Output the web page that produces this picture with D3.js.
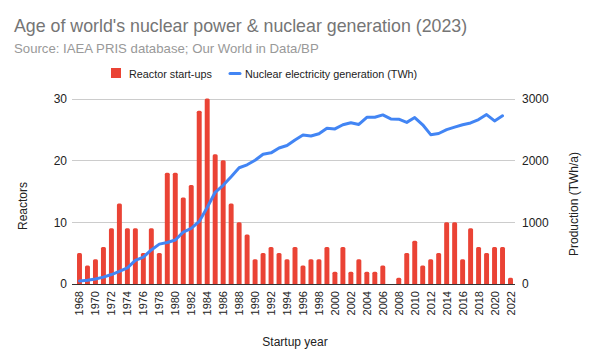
<!DOCTYPE html>
<html><head><meta charset="utf-8">
<script src="https://cdn.jsdelivr.net/npm/d3@7"></script>
<style>
body{margin:0;background:#fff;}
text{font-family:"Liberation Sans",Arial,sans-serif;}
</style></head>
<body>
<svg id="c" width="592" height="364"></svg>
<script>
const years = d3.range(1968, 2023);
const reactors = [5,3,4,6,9,13,9,9,5,9,5,18,18,14,16,28,30,21,20,13,10,8,4,5,6,5,4,6,3,4,4,6,2,6,2,4,2,2,3,0,1,5,7,3,4,5,10,10,4,9,6,5,6,6,1];
const genYears = d3.range(1968, 2022);
const generation = [50,60,80,111,153,203,260,381,436,551,645,672,712,838,898,1012,1238,1483,1597,1735,1880,1928,2001,2099,2121,2200,2240,2330,2410,2393,2430,2520,2508,2575,2609,2580,2695,2697,2735,2670,2665,2614,2692,2575,2415,2434,2496,2537,2576,2605,2660,2740,2637,2720];
const leftTicks = [0,10,20,30];
const rightTicks = [0,1000,2000,3000];
const tickYears = years.filter(y => (y - 1968) % 2 === 0);

const svg = d3.select("#c");
const L = 75.5, R = 514.5, T = 98.5, B = 284;
const x = d3.scaleBand().domain(years).range([L, R]).paddingInner(0.38).paddingOuter(0.19);
const yL = d3.scaleLinear().domain([0, 30]).range([B, T]);
const yR = d3.scaleLinear().domain([0, 3000]).range([B, T]);

// title
svg.append("text").attr("x", 14).attr("y", 32).attr("fill", "#757575").attr("font-size", 17.8).text("Age of world's nuclear power & nuclear generation (2023)");
svg.append("text").attr("x", 14).attr("y", 53).attr("fill", "#999").attr("font-size", 13.2).text("Source: IAEA PRIS database; Our World in Data/BP");

// legend
svg.append("rect").attr("x", 111).attr("y", 68).attr("width", 10).attr("height", 10).attr("fill", "#EA4335");
svg.append("text").attr("x", 129).attr("y", 78).attr("font-size", 10.8).attr("fill", "#222").text("Reactor start-ups");
svg.append("line").attr("x1", 230).attr("x2", 240).attr("y1", 73.5).attr("y2", 73.5).attr("stroke", "#4285F4").attr("stroke-width", 3).attr("stroke-linecap", "round");
svg.append("text").attr("x", 245).attr("y", 78).attr("font-size", 10.8).attr("fill", "#222").text("Nuclear electricity generation (TWh)");

// gridlines
svg.append("g").selectAll("line").data(leftTicks.slice(1)).join("line")
  .attr("x1", 72).attr("x2", 515).attr("y1", d => Math.round(yL(d)) + 0.5).attr("y2", d => Math.round(yL(d)) + 0.5)
  .attr("stroke", "#ccc").attr("stroke-width", 1);

// left axis labels
const axL = d3.axisLeft(yL).tickValues(leftTicks).tickSize(0).tickPadding(0).tickFormat(d3.format("d"));
const gL = svg.append("g").attr("transform", "translate(67,0)").call(axL);
gL.select(".domain").remove();
gL.selectAll("text").attr("font-size", 12).attr("fill", "#222").attr("font-family", "Liberation Sans, Arial, sans-serif");

const axR = d3.axisRight(yR).tickValues(rightTicks).tickSize(0).tickPadding(0).tickFormat(d3.format("d"));
const gR = svg.append("g").attr("transform", "translate(522,0)").call(axR);
gR.select(".domain").remove();
gR.selectAll("text").attr("font-size", 12).attr("fill", "#222").attr("font-family", "Liberation Sans, Arial, sans-serif");

// bars
svg.append("g").selectAll("path").data(years.map((y, i) => ({y, v: reactors[i]})).filter(d => d.v > 0)).join("path")
  .attr("fill", "#EA4335")
  .attr("d", d => {
    const x0 = x(d.y), w = x.bandwidth(), y0 = yL(d.v), h = B - y0, r = Math.min(1.5, h);
    return `M${x0},${B}V${y0 + r}Q${x0},${y0} ${x0 + r},${y0}H${x0 + w - r}Q${x0 + w},${y0} ${x0 + w},${y0 + r}V${B}Z`;
  });

// baseline
svg.append("line").attr("x1", 72).attr("x2", 515).attr("y1", B + 0.5).attr("y2", B + 0.5).attr("stroke", "#333").attr("stroke-width", 1);

// line
const line = d3.line().x((d, i) => x(genYears[i]) + x.bandwidth() / 2).y(d => yR(d));
svg.append("path").datum(generation).attr("d", line).attr("fill", "none")
  .attr("stroke", "#4285F4").attr("stroke-width", 3).attr("stroke-linejoin", "round").attr("stroke-linecap", "round");

// x tick labels
svg.append("g").selectAll("text").data(tickYears).join("text")
  .attr("transform", d => `translate(${x(d) + x.bandwidth() / 2 + 4},291) rotate(-90)`)
  .attr("text-anchor", "end").attr("font-size", 11).attr("fill", "#222").text(d => d);

// axis titles
svg.append("text").attr("x", 295).attr("y", 346).attr("text-anchor", "middle").attr("font-size", 12).attr("fill", "#222").text("Startup year");
svg.append("text").attr("transform", "translate(27,206) rotate(-90)").attr("text-anchor", "middle").attr("font-size", 12).attr("fill", "#222").text("Reactors");
svg.append("text").attr("transform", "translate(578,204) rotate(-90)").attr("text-anchor", "middle").attr("font-size", 12).attr("fill", "#222").text("Production (TWh/a)");
</script>
</body></html>
